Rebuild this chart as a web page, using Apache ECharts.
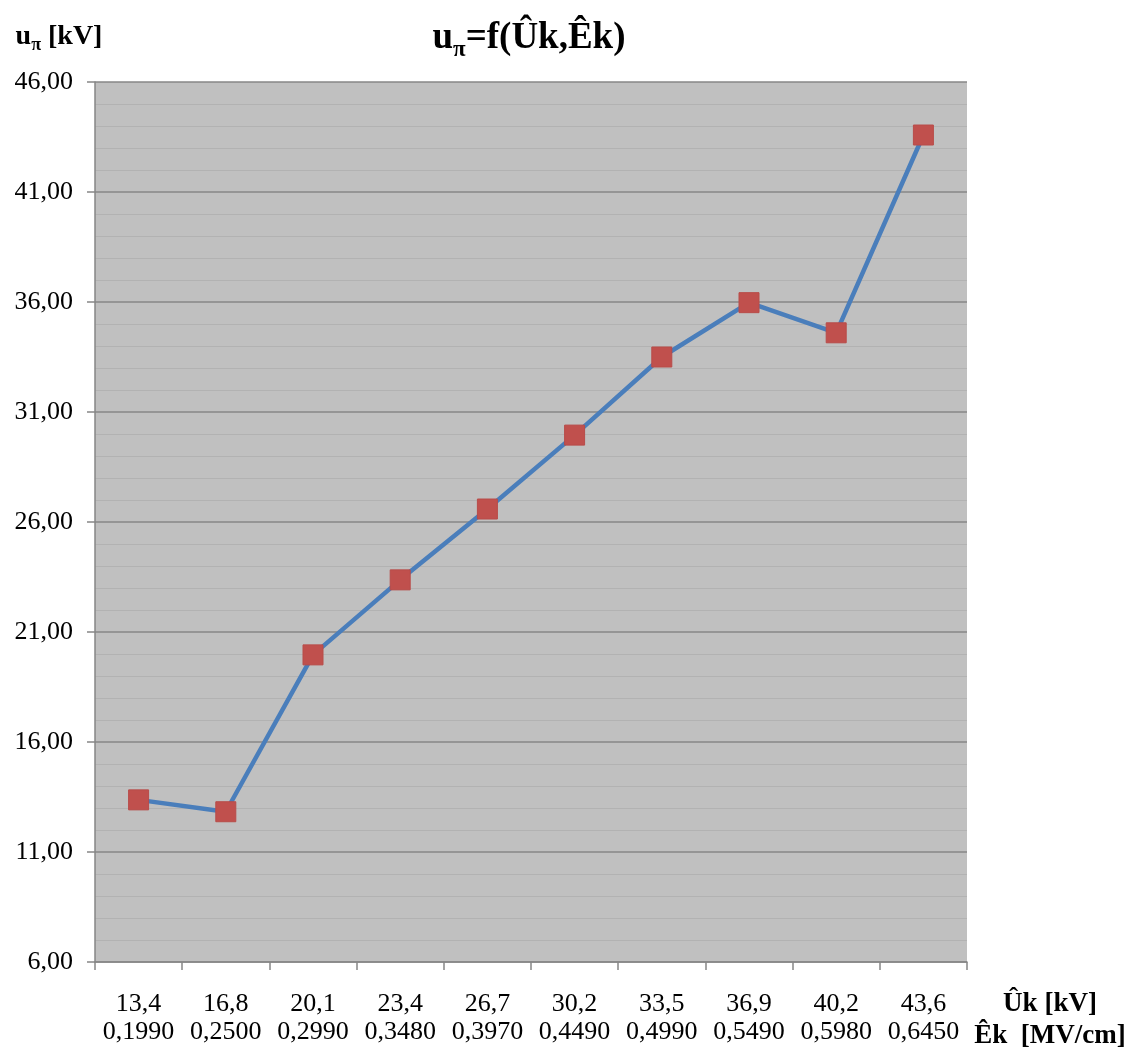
<!DOCTYPE html>
<html>
<head>
<meta charset="utf-8">
<script src="https://cdn.jsdelivr.net/npm/echarts@6/dist/echarts.min.js"></script>
<style>
html,body{margin:0;padding:0;background:#fff;}
#c{width:1147px;height:1050px;}
</style>
</head>
<body>
<div id="c"></div>
<script>
var ukLabels = ['13,4','16,8','20,1','23,4','26,7','30,2','33,5','36,9','40,2','43,6'];
var ekLabels = ['0,1990','0,2500','0,2990','0,3480','0,3970','0,4490','0,4990','0,5490','0,5980','0,6450'];
var upiValues = [13.37, 12.83, 19.96, 23.37, 26.59, 29.95, 33.50, 35.97, 34.60, 43.59];
var yMin = 6, yMax = 46, yStep = 5;

var FONT = 'Liberation Serif';
var categories = ukLabels.map(function(u, i){ return u + '\n' + ekLabels[i]; });

var chart = echarts.init(document.getElementById('c'), null, {renderer:'canvas'});
chart.setOption({
  backgroundColor: '#ffffff',
  animation: false,
  title: {
    text: '{a|u}{s|π}{a|=f(Ûk,Êk)}',
    left: 524,
    textAlign: 'center',
    top: 9,
    textStyle: {
      rich: {
        a: {fontFamily: FONT, fontWeight: 'bold', fontSize: 37, color: '#000', lineHeight: 48},
        s: {fontFamily: FONT, fontWeight: 'bold', fontSize: 23, color: '#000', verticalAlign: 'bottom', lineHeight: 48}
      }
    }
  },
  grid: {
    left: 95, right: 180, top: 82, bottom: 88,
    show: true, backgroundColor: '#c0c0c0', borderWidth: 0,
    containLabel: false,
    outerBoundsMode: 'none'
  },
  xAxis: {
    type: 'category',
    data: categories,
    boundaryGap: true,
    name: '{n|Ûk [kV]}\n{n|Êk  [MV/cm]}',
    nameLocation: 'end',
    nameGap: 83,
    nameTextStyle: {
      align: 'center', verticalAlign: 'top', padding: [26, 0, 0, 0],
      rich: { n: {fontFamily: FONT, fontWeight: 'bold', fontSize: 27, color: '#000', lineHeight: 32, align:'center'} }
    },
    axisLine: {show: true, lineStyle: {color: '#868686', width: 1.5}},
    axisTick: {show: true, alignWithLabel: false, length: 8, lineStyle: {color: '#868686', width: 1.5}},
    axisLabel: {fontFamily: FONT, fontSize: 26, color: '#000', lineHeight: 28, margin: 28, interval: 0},
    splitLine: {show: false}
  },
  yAxis: {
    type: 'value',
    min: yMin, max: yMax, interval: yStep,
    name: '{u|u}{s|π}{u| [kV]}',
    nameLocation: 'end',
    nameGap: 45,
    nameTextStyle: {
      align: 'center', verticalAlign: 'middle', padding: [0, 72, 0, 0],
      rich: {
        u: {fontFamily: FONT, fontWeight: 'bold', fontSize: 28, color: '#000', lineHeight: 34},
        s: {fontFamily: FONT, fontWeight: 'bold', fontSize: 18, color: '#000', verticalAlign: 'bottom', lineHeight: 34}
      }
    },
    axisLine: {show: true, lineStyle: {color: '#868686', width: 1.5}},
    axisTick: {show: true, length: 8, inside: false, lineStyle: {color: '#868686', width: 1.5}},
    axisLabel: {
      fontFamily: FONT, fontSize: 26, color: '#000', margin: 22,
      formatter: function(v){ return v.toFixed(2).replace('.', ','); }
    },
    splitLine: {show: true, lineStyle: {color: '#878787', width: 1.5}},
    minorTick: {show: false, splitNumber: 5},
    minorSplitLine: {show: true, lineStyle: {color: '#b2b2b2', width: 1.2}}
  },
  series: [{
    type: 'line',
    data: upiValues,
    symbol: 'rect',
    symbolSize: 20,
    lineStyle: {color: '#4a7ebb', width: 4.5},
    itemStyle: {color: '#c0504d', borderColor: '#b84c49', borderWidth: 1},
    z: 5
  }]
});
</script>
</body>
</html>
